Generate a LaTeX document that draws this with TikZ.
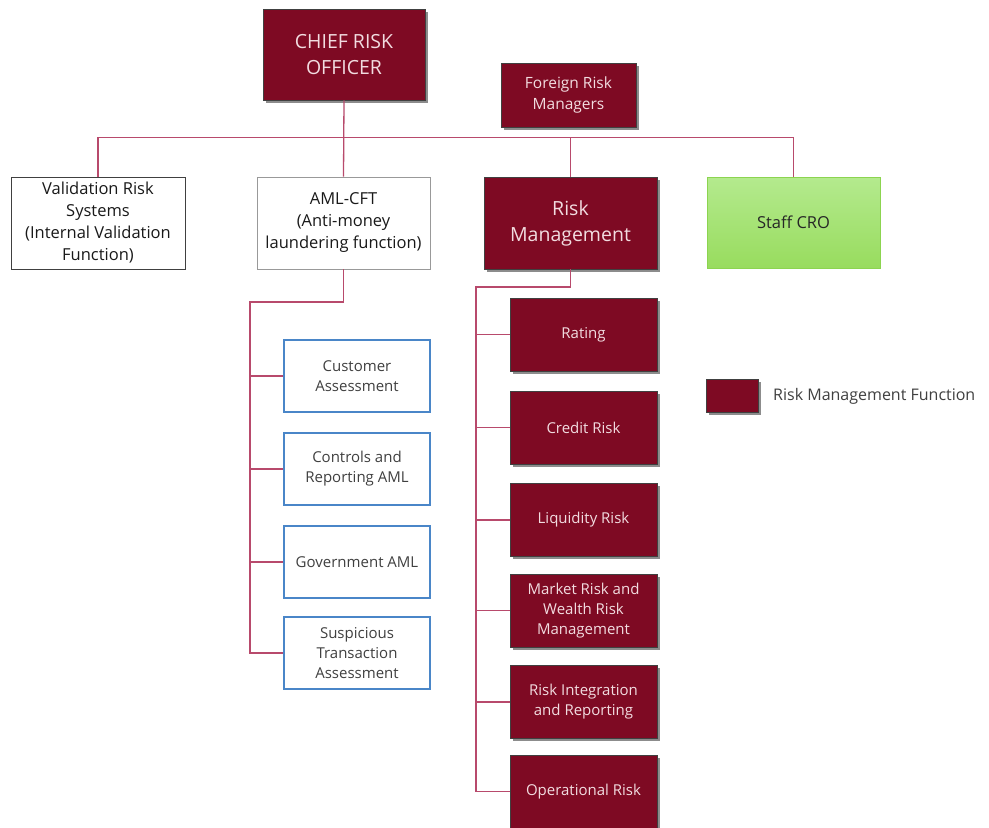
\documentclass[tikz,border=0pt]{standalone}
\usepackage{fontspec}
\setmainfont{Open Sans}
\usetikzlibrary{shadows,calc}
\definecolor{rmred}{HTML}{7E0A23}
\definecolor{rmtext}{HTML}{F2DCE0}
\definecolor{connc}{HTML}{B84A6C}
\definecolor{bluebd}{HTML}{4A86C8}
\definecolor{greenbd}{HTML}{8CD450}
\definecolor{greentop}{HTML}{B4EA8E}
\definecolor{greenbot}{HTML}{98DC5E}
\tikzset{
  box/.style={align=center, inner sep=2pt},
  rmbox/.style={box, draw=black!75, line width=0.8pt, fill=rmred, text=rmtext,
    drop shadow={shadow xshift=2.5pt, shadow yshift=-2.5pt, opacity=0.45, fill=black}},
  whitebox/.style={box, draw=black!75, line width=0.9pt, fill=white, text=black!90},
  graybox/.style={box, draw=black!40, line width=0.9pt, fill=white, text=black!90},
  bluebox/.style={box, draw=bluebd, line width=1.4pt, fill=white, text=black!75,
    minimum width=146, minimum height=72},
  subrm/.style={rmbox, minimum width=147, minimum height=73},
  greenbox/.style={box, draw=greenbd, line width=0.9pt, top color=greentop, bottom color=greenbot, text=black!85},
  conn/.style={draw=connc, line width=1.3pt},
  big/.style={font=\fontsize{19.5}{26}\selectfont},
  mid/.style={font=\fontsize{16.5}{22}\selectfont},
  small/.style={font=\fontsize{15}{20}\selectfont},
}
\begin{document}
\begin{tikzpicture}[x=1pt,y=-1pt]
\clip (0,0) rectangle (989,828);
\fill[white] (0,0) rectangle (989,828);

% top level
\node[rmbox, big, minimum width=162, minimum height=91] (cro) at (344,54.5) {CHIEF RISK\\OFFICER};
\node[rmbox, font=\fontsize{15.5}{21}\selectfont, minimum width=135, minimum height=64] (frm) at (568.5,95) {Foreign Risk\\Managers};

\node[whitebox, mid, minimum width=174, minimum height=92] (val) at (98,223) {Validation Risk\\Systems\\(Internal Validation\\Function)};
\node[graybox, mid, minimum width=173, minimum height=92] (aml) at (343.5,223) {AML-CFT\\(Anti-money\\laundering function)};
\node[rmbox, big, minimum width=173, minimum height=92] (rmm) at (570.5,223) {Risk\\Management};
\node[greenbox, mid, minimum width=173, minimum height=91] (staff) at (793.5,222.5) {Staff CRO};

% AML subs
\node[bluebox, small] (cust) at (357,376) {Customer\\Assessment};
\node[bluebox, small] (ctrl) at (357,469) {Controls and\\Reporting AML};
\node[bluebox, small] (gov) at (357,562) {Government AML};
\node[bluebox, small] (sus) at (357,653) {Suspicious\\Transaction\\Assessment};

% RM subs
\node[subrm, small] (rat) at (583.5,334.5) {Rating};
\node[subrm, small] (cred) at (583.5,427.5) {Credit Risk};
\node[subrm, small] (liq) at (583.5,520) {Liquidity Risk};
\node[subrm, small] (mkt) at (583.5,610.5) {Market Risk and\\Wealth Risk\\Management};
\node[subrm, small] (rint) at (583.5,702) {Risk Integration\\and Reporting};
\node[subrm, small] (oper) at (583.5,791.5) {Operational Risk};

% legend
\node[rmbox, minimum width=52, minimum height=33] (leg) at (732,395.5) {};
\node[anchor=west, text=black!75, font=\fontsize{16}{20}\selectfont, inner sep=0pt] (legt) at (773,396) {Risk Management Function};

% connectors
\draw[conn] (cro.south) -- (aml.north);
\draw[conn] (val.north) -- ++(0,-39) -| (staff.north);
\draw[conn] (rmm.north) -- ++(0,-39);

\coordinate (amlbus) at (250,302);
\draw[conn] (aml.south) |- (amlbus) -- (amlbus |- sus.west) -- (sus.west);
\draw[conn] (amlbus |- cust.west) -- (cust.west);
\draw[conn] (amlbus |- ctrl.west) -- (ctrl.west);
\draw[conn] (amlbus |- gov.west) -- (gov.west);

\coordinate (rmbus) at (476,287);
\draw[conn] (rmm.south) |- (rmbus) -- (rmbus |- oper.west) -- (oper.west);
\draw[conn] (rmbus |- rat.west) -- (rat.west);
\draw[conn] (rmbus |- cred.west) -- (cred.west);
\draw[conn] (rmbus |- liq.west) -- (liq.west);
\draw[conn] (rmbus |- mkt.west) -- (mkt.west);
\draw[conn] (rmbus |- rint.west) -- (rint.west);
\end{tikzpicture}
\end{document}
